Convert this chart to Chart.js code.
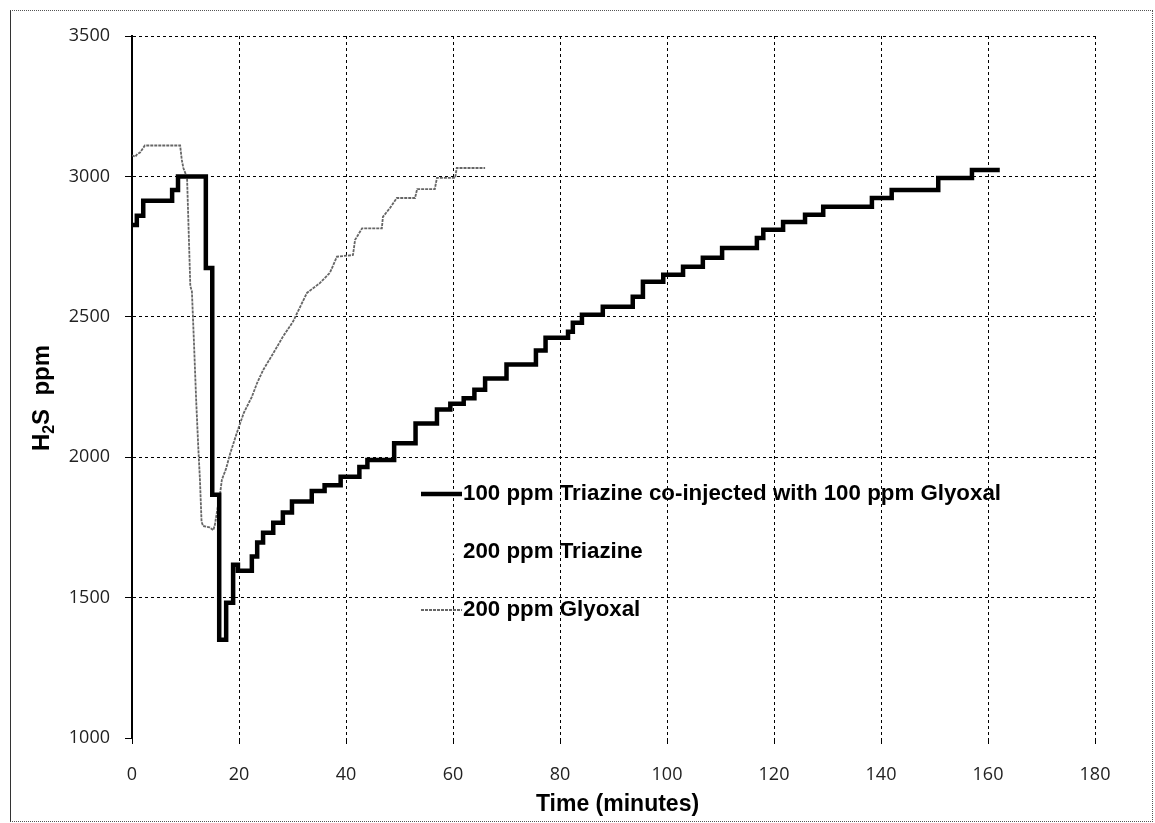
<!DOCTYPE html>
<html><head><meta charset="utf-8">
<script src="https://cdn.jsdelivr.net/npm/chart.js@4"></script>
<style>
html,body{margin:0;padding:0;background:#fff;}
#wrap{position:relative;width:1155px;height:823px;overflow:hidden;}
#frame{position:absolute;left:10px;top:10px;width:1143px;height:812px;border:1px dotted #555;border-left:1.5px solid #333;box-sizing:border-box;pointer-events:none;}
canvas{position:absolute;left:0;top:0;}
</style></head><body>
<div id="wrap"><canvas id="c" width="1155" height="823"></canvas><div id="frame"></div></div>
<script>
// ---- data ----
const seriesLabels = [
  "100 ppm Triazine co-injected with 100 ppm Glyoxal",
  "200 ppm Triazine",
  "200 ppm Glyoxal"
];
const xTicks = [0,20,40,60,80,100,120,140,160,180];
const yTicks = [1000,1500,2000,2500,3000,3500];
const xTitle = "Time (minutes)";

// 100 ppm Triazine + 100 ppm Glyoxal (step starts, minutes / ppm)
const combX = [0,0.9,2.1,7.5,8.6,13.8,15.0,16.3,17.6,18.9,19.8,22.4,23.4,24.5,26.4,28.2,29.9,33.6,36.0,39.0,42.5,44.0,49.0,53.0,57.0,59.5,62.0,64.0,66.0,70.0,75.5,77.3,81.5,82.4,84.1,88.0,93.6,95.5,99.3,103.0,106.7,110.3,116.8,118.0,121.7,125.8,129.2,138.3,142.0,150.7,157.0,162.2];
const combY = [2827,2860,2913,2952,3000,2674,1866,1350,1482,1617,1596,1646,1696,1731,1767,1803,1842,1880,1900,1930,1965,1990,2050,2120,2170,2190,2210,2240,2280,2330,2380,2425,2447,2479,2507,2536,2571,2625,2650,2678,2710,2745,2781,2810,2838,2863,2892,2923,2952,2994,3023,3023];

// 200 ppm Triazine (not visible in the figure)
const triX = [];
const triY = [];

// 200 ppm Glyoxal
const glyX = [0,0.6,1.0,1.5,2.4,9.0,9.3,9.6,10.0,10.3,10.6,10.9,11.2,11.6,12.0,12.4,12.7,13.0,13.3,14.5,15.2,15.5,16.0,16.4,16.8,17.6,18.3,19.6,20.9,22.4,23.4,24.5,26.4,28.2,30.1,31.8,32.7,35.1,37.0,38.3,41.3,41.7,43.0,46.7,46.9,48.2,49.5,52.9,53.3,56.6,57.0,60.4,60.7,66.0];
const glyY = [3075,3070,3080,3085,3110,3110,3060,3030,3010,2990,2800,2610,2590,2400,2200,2030,1920,1770,1755,1750,1740,1760,1820,1860,1920,1960,2010,2087,2158,2215,2265,2310,2370,2429,2483,2550,2585,2620,2657,2714,2720,2774,2815,2815,2856,2887,2923,2923,2955,2955,2995,2995,3030,3030];

const toPts = (xs, ys) => xs.map((x, i) => ({x, y: ys[i]}));

// ---- custom drawing of titles and legend ----
const decor = {
  id: 'decor',
  afterDraw(chart) {
    const ctx = chart.ctx, a = chart.chartArea;
    ctx.save();
    ctx.fillStyle = '#000';
    // x title
    ctx.font = 'bold 23px "Liberation Sans", Arial, sans-serif';
    ctx.textAlign = 'center'; ctx.textBaseline = 'middle';
    ctx.fillText(xTitle, (a.left + a.right) / 2 + 4, 805);
    // y title with subscript
    ctx.save();
    ctx.translate(49, 398);
    ctx.rotate(-Math.PI / 2);
    ctx.textAlign = 'left'; ctx.textBaseline = 'alphabetic';
    const big = 'bold 24px "Liberation Sans", Arial, sans-serif';
    const small = 'bold 16px "Liberation Sans", Arial, sans-serif';
    ctx.font = big; const wH = ctx.measureText('H').width;
    ctx.font = small; const w2 = ctx.measureText('2').width;
    ctx.font = big; const wR = ctx.measureText('S  ppm').width;
    let x0 = -(wH + w2 + wR) / 2;
    ctx.font = big; ctx.fillText('H', x0, 0); x0 += wH;
    ctx.font = small; ctx.fillText('2', x0, 5); x0 += w2;
    ctx.font = big; ctx.fillText('S  ppm', x0, 0);
    ctx.restore();
    // legend
    const lf = 'bold 22px "Liberation Sans", Arial, sans-serif';
    ctx.font = lf;
    const sx = 538 / ctx.measureText(chart.data.datasets[0].label).width;
    ctx.textAlign = 'left'; ctx.textBaseline = 'middle';
    chart.data.datasets.forEach((ds, i) => {
      const y = 494 + i * 58;
      ctx.save();
      ctx.strokeStyle = ds.borderColor;
      ctx.lineWidth = ds.borderWidth;
      ctx.setLineDash(ds.borderDash || []);
      ctx.beginPath(); ctx.moveTo(421, y); ctx.lineTo(462, y); ctx.stroke();
      ctx.restore();
      ctx.save();
      ctx.translate(463, y);
      ctx.scale(sx, 1);
      ctx.fillStyle = '#000';
      ctx.font = lf;
      ctx.fillText(ds.label, 0, 0);
      ctx.restore();
    });
    ctx.restore();
  }
};

const tickFont = {family: '"Open Sans", "DejaVu Sans", sans-serif', size: 18};
const plain = v => String(v);

new Chart(document.getElementById('c'), {
  type: 'line',
  data: {
    datasets: [
      {label: seriesLabels[0], data: toPts(combX, combY), borderColor: '#000', borderWidth: 4.5, stepped: true, pointRadius: 0, order: 1},
      {label: seriesLabels[1], data: toPts(triX, triY), borderColor: 'rgba(255,255,255,1)', borderWidth: 3, pointRadius: 0, order: 2},
      {label: seriesLabels[2], data: toPts(glyX, glyY), borderColor: '#666', borderWidth: 1.8, borderDash: [3,1], pointRadius: 0, order: 3}
    ]
  },
  options: {
    responsive: false,
    animation: false,
    devicePixelRatio: 1,
    layout: {padding: {top: 36, right: 60, left: 0, bottom: 0}},
    plugins: {legend: {display: false}, tooltip: {enabled: false}},
    scales: {
      x: {
        type: 'linear', min: 0, max: 180,
        afterBuildTicks: s => { s.ticks = xTicks.map(v => ({value: v})); },
        afterFit: s => { s.height = 85; },
        ticks: {font: tickFont, color: '#222', padding: 20, maxRotation: 0, callback: plain},
        grid: {color: '#000', lineWidth: 1, tickLength: 6, tickColor: '#000'},
        border: {display: false, dash: [3,3]}
      },
      y: {
        type: 'linear', min: 1000, max: 3500,
        afterBuildTicks: s => { s.ticks = yTicks.map(v => ({value: v})); },
        afterFit: s => { s.width = 132; },
        ticks: {font: tickFont, color: '#222', padding: 15, callback: plain},
        grid: {color: c => (c.tick && c.tick.value === 1000) ? 'rgba(0,0,0,0)' : '#000', lineWidth: 1, tickLength: 7, tickColor: '#000'},
        border: {display: true, color: '#000', width: 2, dash: [3,3]}
      }
    }
  },
  plugins: [decor]
});
</script>
</body></html>
